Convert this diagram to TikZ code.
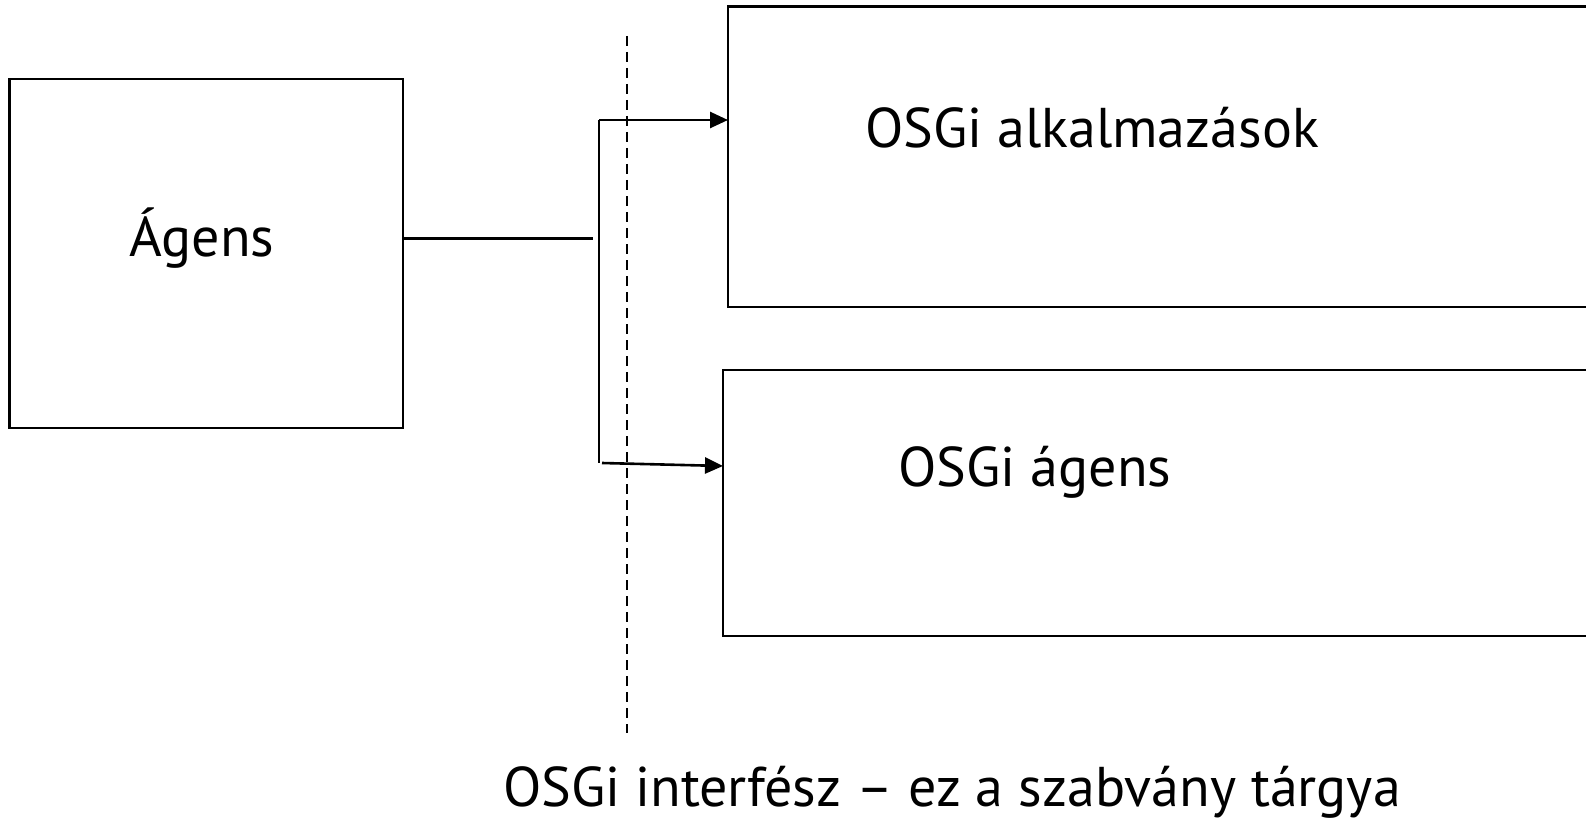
\documentclass[tikz,border=0pt]{standalone}
\usepackage{fontspec}
\setmainfont{PT Sans}
\usetikzlibrary{arrows.meta}
\begin{document}
\begin{tikzpicture}[x=1pt,y=-1pt,
  box/.style={draw,line width=2.6pt,inner sep=0pt,outer sep=0pt},
  lbl/.style={font=\fontsize{56}{62}\selectfont,inner sep=0pt,anchor=center},
  conn/.style={line width=2.6pt},
  arr/.style={line width=2.6pt,-{Triangle[length=18pt,width=16pt]}},
  dashline/.style={line width=2.4pt,dash pattern=on 10pt off 6pt}]
\useasboundingbox (0,0) rectangle (1586,821);
% boxes
\node[box,minimum width=393.5pt,minimum height=349pt] (agens) at (206.25,253.5) {};
\node[box,minimum width=880pt,minimum height=300.3pt] (app) at (1168,156.85) {};
\node[box,minimum width=880pt,minimum height=266pt] (osgi) at (1163,503) {};
% labels
\node[lbl] (agenslbl) at (202,238) {Ágens};
\node[lbl] (applbl) at (1092,128) {OSGi alkalmazások};
\node[lbl] (osgilbl) at (1035,472) {OSGi ágens};
\node[lbl] (iflbl) at (952,792) {OSGi interfész – ez a szabvány tárgya};
% dashed interface line
\coordinate (d1) at (627,36);
\coordinate (d2) at (627,733);
\draw[dashline] (d1) -- (d2);
% connectors
\coordinate (j) at (593,238.3);
\coordinate (jt) at (599,120);
\coordinate (jb) at (599,463);
\coordinate (jb2) at (602,463);
\coordinate (tipb) at (723,466);
\draw[conn] (agens.east |- j) -- (j);
\draw[conn] (jt) -- (jb);
\draw[arr] (jt) -- (app.west |- jt);
\draw[arr] (jb2) -- (tipb);
\end{tikzpicture}
\end{document}
